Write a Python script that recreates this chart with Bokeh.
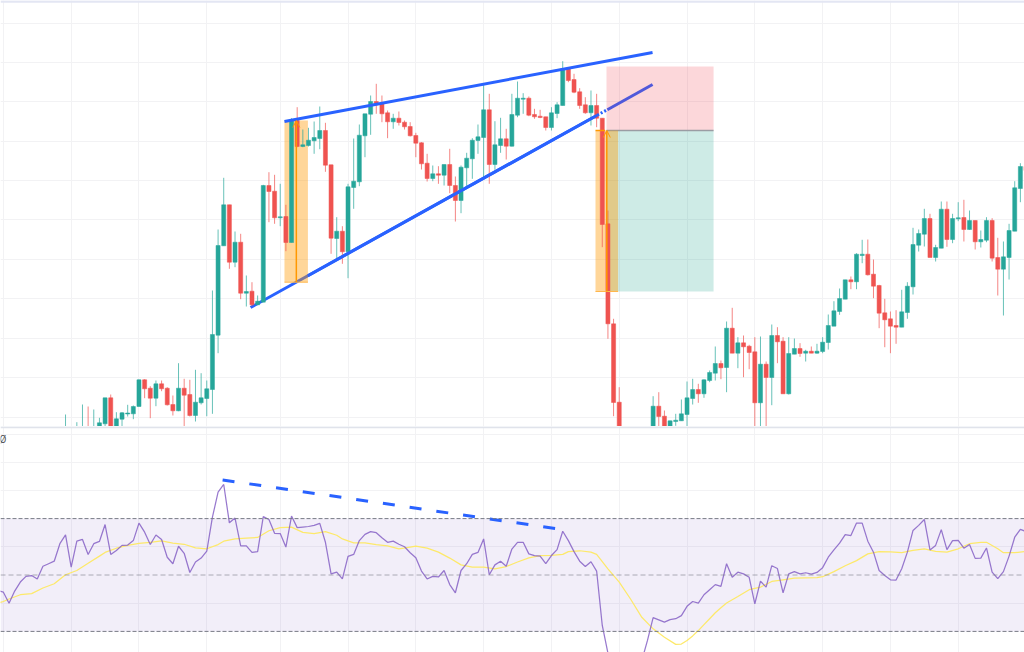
from bokeh.embed import file_html
from bokeh.layouts import column
from bokeh.models import Arrow, BoxAnnotation, ColumnDataSource, FixedTicker, Label, OpenHead, Range1d, Span
from bokeh.plotting import figure
from bokeh.resources import INLINE

# bars are numbered so that 0 sits on the first full vertical grid line
bar_first = -1

bar_open = [-1, 1, 0, 1, 4, 1, 3, 6.7, 32.7, 2,
    11.3, 16.5, 16.7, 24, 50.7, 42.3, 32.3, 46.7, 42.3, 26,
    19.7, 42.3, 36, 15, 27.7, 32, 41, 95.3, 184.7, 225.7,
    168.3, 188.3, 137.3, 139.3, 125.7, 128.3, 245, 239.3, 212.7, 214,
    188, 310, 284, 285, 289.7, 292, 300, 265.7, 192, 199.3,
    178.7, 243, 248.7, 294.7, 316.3, 329, 326.7, 317.7, 308.7, 312.3,
    308.3, 304, 295, 287.7, 267.3, 252, 256.7, 255.3, 266, 245,
    230, 262.7, 271.7, 290, 293, 320.7, 266, 285, 291.7, 284.3,
    315.3, 331.3, 332.3, 316, 314.3, 313.7, 303, 317, 325, 362.3,
    351, 338.7, 325.7, 317.7, 325, 312.3, 206.7, 106.7, 28.3, -10,
    -30, -38, -30, -24, -5, 24.3, 14.3, -3, 9, 9.7,
    16, 32, 41, 36.7, 50, 57.3, 67, 63, 102.3, 77.3,
    87.7, 84.3, 78.7, 27.7, 66.3, 53, 95, 89.3, 36.7, 76.3,
    82, 77.3, 79.3, 77.3, 79, 88, 104.3, 119, 131.3, 150.7,
    148.7, 175, 176.3, 156.3, 145, 117.7, 111.7, 105, 103.3, 118,
    143.7, 185.3, 196.3, 212, 173, 182.3, 221.3, 191, 211.7, 213,
    201, 210, 188.7, 190.3, 210, 173, 161.3, 173, 199.3, 242, 264]

bar_high = [16, 3, 8.3, 26, 24, 21, 12.7, 32.7, 36, 18.3,
    18.5, 25.7, 25, 51, 51.3, 44.3, 50, 50, 43.3, 35,
    67.3, 51.7, 50.7, 60.7, 57.3, 50, 140, 201, 252.7, 225.7,
    199, 196.7, 155, 148.3, 135, 245.7, 258.3, 255.7, 246.7, 225.7,
    312.3, 323.3, 301, 302.7, 309, 324, 307.7, 265.7, 213.3, 204.3,
    246.7, 292, 306, 316.7, 335, 346.7, 335, 320, 316.7, 319,
    310, 308.3, 297.7, 288.3, 276.7, 265, 264.3, 266, 281.7, 254,
    265, 277.7, 292.3, 306, 346.7, 336.7, 309.3, 312.7, 301.7, 336.7,
    349, 337.3, 334, 321.7, 320.7, 313.7, 323.3, 328.3, 369.3, 363.3,
    356.7, 342.3, 333.3, 340, 336.7, 312.3, 220, 111.7, 43.3, -8,
    -25, -24, -20, -4, 34.3, 38.3, 20, 10, 16.7, 31,
    49, 51.7, 46.7, 51.3, 60, 84, 70, 109, 122.7, 93.3,
    95, 85.7, 93.3, 94, 69, 106, 103.3, 93.3, 93.3, 92,
    87.3, 80.7, 84, 86.7, 93.3, 116, 129.3, 142, 150.7, 154,
    177.3, 190.7, 191, 171, 145.7, 131.7, 119, 120.3, 140.7, 148.3,
    202.7, 201, 221.7, 216.7, 185.7, 229, 229, 216.7, 228.3, 230.7,
    220, 210, 200, 213.3, 212.3, 192.7, 189, 206.7, 249.3, 267.3, 266]

bar_low = [-4, -6, -3, -2, -2, -1, 1, 2, 0, 0,
    4, 14, 11.3, 24, 32.3, 12.3, 24.3, 39.3, 25, 15,
    19.3, 4, 14, 9, 26, 14.3, 16.7, 77.3, 184.7, 161.7,
    163.3, 131.3, 124, 124.3, 125.7, 128.3, 208.3, 206.7, 204.3, 179.3,
    188, 283.3, 283.3, 284, 276.7, 281.3, 258.7, 176.7, 172.3, 166.7,
    152.3, 221.7, 244.3, 273.3, 295.7, 316.7, 308.3, 292.3, 301.7, 305,
    301, 294, 273.3, 261, 249, 249.3, 246.7, 245, 237.3, 209,
    217.3, 241.7, 251.7, 276.7, 251.7, 246.7, 260.7, 277.7, 271, 284,
    313.3, 316.7, 314.3, 311.7, 312.3, 300, 300, 312.3, 325, 348.3,
    337.3, 321.7, 316.7, 305, 303.3, 183.3, 91.7, 14.3, -15, -35,
    -45, -42, -33, -26, -8, 3, -5, -5, 4.7, 9.7,
    0, 26, 27.7, 32.7, 48.3, 50, 51.3, 38.3, 77.3, 62.3,
    53.3, 61.3, 0, 0, 0, 25.3, 67.3, 36.7, 36, 76.3,
    73.7, 69, 77.3, 76.7, 77.3, 81, 104.3, 115.7, 131.3, 141.3,
    141.3, 167.3, 155, 132.3, 102.3, 83.3, 77.3, 86.7, 103.3, 111.7,
    136, 179, 184, 173, 169, 182.3, 183.7, 187.3, 209.3, 189,
    200.7, 181, 183, 188.3, 169, 135, 115, 151, 199.3, 228.3, 258]

bar_close = [2, -3, 3, 4, 1, 4, 7.7, 32.7, 2, 11.7,
    17.7, 17.5, 24, 50.7, 41.7, 32.3, 46.7, 41.7, 25.7, 19.7,
    42.3, 35.3, 15, 28.3, 32.7, 41.7, 96, 185, 225.7, 168.3,
    188.3, 137.3, 139, 125.7, 129.3, 245, 239, 212.7, 213.7, 188,
    310, 284, 285.7, 290.3, 293, 300, 265.3, 192.3, 199.3, 178.7,
    243.7, 249.3, 295.3, 316.7, 329, 325.7, 316.7, 308.7, 312.3, 308,
    303.7, 294.7, 287.3, 266.7, 252, 256.7, 255.3, 266, 245, 230,
    263.3, 272.3, 290.3, 293.7, 320.7, 266, 285.7, 291.7, 284.3, 316,
    332.3, 332.3, 315.3, 313.7, 313, 303, 317.7, 325.7, 361.7, 350,
    338.3, 325, 317.7, 325, 312.3, 206, 106.7, 28, -10, -30,
    -38, -30, -24, -8, 24.3, 14, -3, 9.7, 10.3, 16.7,
    32.7, 41, 36.7, 50.7, 58, 67, 62.7, 102.3, 77.3, 87.7,
    83.7, 78, 27.7, 66.3, 53, 95, 88.7, 36.7, 77, 82,
    77, 79.3, 77.3, 79.3, 88.3, 105, 119.7, 132, 150.7, 148.7,
    176.3, 176.3, 155.7, 144.3, 117.3, 110.7, 104.3, 103.3, 118.7, 144.3,
    186, 197, 212, 173, 183, 221.3, 191, 212, 212.7, 201,
    210, 188.7, 191, 210, 172.3, 161.3, 173.7, 200, 242.7, 264, 260]

rsi_first = -13
rsi_values = [44.5, 43.9, 40.0, 44.3, 47.5, 49.5, 49.8, 48.6, 53.1, 54.0, 54.9,
    61.1, 64.2, 52.8, 62.0, 62.6, 57.3, 61.1, 61.9, 67.9, 57.3,
    58.7, 60.5, 60.6, 62.2, 68.4, 65.2, 60.8, 64.2, 62.6, 56.3,
    54.0, 60.2, 57.7, 50.9, 54.6, 56.0, 58.5, 70.5, 79.4, 82.1,
    68.5, 70.2, 60.3, 60.3, 58.0, 58.3, 70.7, 69.7, 64.8, 64.7,
    59.9, 70.9, 66.8, 67.0, 67.2, 67.6, 68.3, 61.6, 50.4, 51.0,
    48.6, 56.6, 57.3, 62.2, 64.4, 65.4, 65.0, 63.2, 61.6, 62.0,
    60.9, 60.0, 57.9, 56.1, 51.4, 48.6, 49.5, 49.3, 51.6, 46.6,
    43.7, 51.6, 54.0, 57.3, 58.0, 62.8, 50.1, 53.6, 54.9, 53.1,
    59.2, 61.6, 61.6, 57.5, 56.9, 56.7, 54.0, 56.9, 59.0, 65.5,
    62.2, 58.3, 54.9, 53.0, 54.7, 51.4, 32.1, 22.3, 18, 15,
    14, 13.5, 15, 19.7, 26.8, 34.9, 34.1, 33.3, 34.2, 34.5,
    35.6, 38.9, 40.6, 40.0, 43.0, 44.8, 46.6, 46.0, 54.0, 49.2,
    51.0, 50.4, 49.2, 39.8, 47.8, 45.7, 53.3, 52.3, 43.7, 50.4,
    51.2, 50.4, 50.8, 50.3, 50.9, 52.6, 56.3, 58.9, 61.3, 64.3,
    64.0, 68.4, 68.4, 62.0, 58.1, 51.6, 49.8, 48.3, 48.2, 52.2,
    58.1, 65.8, 67.6, 69.7, 58.9, 60.5, 66.1, 59.0, 62.2, 62.3,
    59.5, 60.8, 55.9, 56.0, 59.6, 51.0, 48.7, 51.2, 56.7, 63.4, 66.2, 65.4]

ma_bars = [-13, -12, -11, -9, -7, -5, -3, -1, 1, 3, 5, 6, 8, 10, 12, 14, 16, 18, 20, 22, 24,
    26, 27, 29, 31, 33, 35, 37, 39, 41, 43, 45, 47, 48, 50, 52, 54, 56, 58, 60, 61,
    63, 65, 67, 69, 71, 73, 75, 77, 79, 81, 83, 85, 87, 88, 90, 92, 93, 95, 97, 99,
    101, 103, 105, 107, 108, 109, 110, 111, 112, 113, 114, 115, 116, 118, 120, 122, 124, 126, 128, 130,
    132, 133, 135, 137, 139, 141, 143, 145, 147, 149, 151, 153, 155, 157, 159, 161, 162, 164, 165, 167, 169]
ma_values = [40.0, 40.6, 41.5, 43.0, 43.4, 45.4, 46.9, 50.1, 51.6, 54.2, 56.7, 58.0, 59.5, 60.5, 61.2, 61.6, 62.1, 61.3, 60.9, 59.6, 59.3,
    60.8, 62.0, 62.8, 63.1, 63.3, 65.7, 66.8, 67.0, 65.1, 64.7, 65.4, 64.1, 62.8, 61.4, 61.4, 60.8, 60.3, 59.3, 59.9, 60.2,
    59.5, 58.1, 56.0, 53.6, 52.8, 52.8, 52.2, 53.0, 54.6, 56.1, 56.9, 57.0, 57.3, 58.3, 58.6, 58.1, 57.3, 52.2, 47.5, 41.5,
    35.0, 30.9, 27.9, 25.4, 25.5, 26.8, 28.4, 30.3, 32.4, 34.5, 36.6, 38.4, 40.1, 42.4, 44.8, 45.7, 47.7, 48.3, 48.9, 49.0,
    49.1, 49.4, 51.2, 53.3, 55.1, 57.5, 58.3, 58.2, 57.9, 58.7, 59.3, 58.4, 58.1, 59.3, 61.1, 61.6, 61.6, 59.3, 57.9, 57.9, 58.4]

# drawings on the price pane, bars / price
upper_bars = [37.75, 102.9]
upper_price = [309, 378]
lower_bars = [31.75, 93.1]
lower_price = [123, 315.3]
lower_top_bars = [41.9, 93.1]
lower_top_price = [154.8, 315.3]
lower_dot_bars = [93.1, 94.9]
lower_dot_price = [315.3, 320.8]
lower_end_bars = [94.9, 102.9]
lower_end_price = [320.8, 346]

# long position boxes
box1_bars = [37.75, 41.9]
box1_price = [148.3, 310]
box1_mid = 39.85
box2_bars = [92.8, 96.8]
box2_price = [139, 300]
box2_mid = 94.8
tick_bars = [92.8, 94.5]
target_bars = [94.75, 113.7]
target_price = [139, 300]
stop_price = [300, 364]

# diverge line on rsi
div_bars = [26.8, 86.0]
div_rsi = [83.7, 66.4]

time_ticks = [-12, 0, 12, 24, 37, 49, 61, 73, 85, 97, 109, 121, 133, 145, 157]
price_ticks = [13.3, 52.7, 92.3, 131.7, 171, 210.7, 250, 289.3, 328.7, 368, 407.5]
rsi_ticks = [40, 60, 80, 90, 100]

UP = "#26a69a"
DOWN = "#ef5350"
BLUE = "#2962ff"
GRID = "#f2f2f4"
ORANGE = "#ff9800"

x_range = Range1d(-12.51, 168.73)


def make_pane(height, y_range, y_ticks):
    p = figure(width=1024, height=height, x_range=x_range, y_range=y_range,
               output_backend="svg", toolbar_location=None, min_border=0)
    p.xaxis.visible = False
    p.yaxis.visible = False
    p.outline_line_color = None
    p.xgrid.ticker = FixedTicker(ticks=time_ticks)
    p.ygrid.ticker = FixedTicker(ticks=y_ticks)
    p.xgrid.grid_line_color = GRID
    p.ygrid.grid_line_color = GRID
    return p


price = make_pane(426, Range1d(4, 430), price_ticks)
price.add_layout(Span(location=429, dimension="width", line_color="#e3e6f3", line_width=2.5))

bars = list(range(bar_first, bar_first + len(bar_open)))
colors = [UP if c >= o else DOWN for o, c in zip(bar_open, bar_close)]
src = ColumnDataSource(dict(x=bars, open=bar_open, high=bar_high, low=bar_low, close=bar_close, color=colors))

price.line(lower_bars, lower_price, line_color=BLUE, line_width=3)
price.line(lower_end_bars, lower_end_price, line_color=BLUE, line_width=3)

price.quad(left=target_bars[0], right=target_bars[1], bottom=target_price[0], top=target_price[1],
           fill_color="#089981", fill_alpha=0.2, line_color=None)
price.quad(left=target_bars[0], right=target_bars[1], bottom=stop_price[0], top=stop_price[1],
           fill_color="#f23645", fill_alpha=0.2, line_color=None)
price.line(target_bars, [stop_price[0], stop_price[0]], line_color="#9a9ca3", line_width=1.5)

price.quad(left=box1_bars[0], right=box1_bars[1], bottom=box1_price[0], top=box1_price[1],
           fill_color=ORANGE, fill_alpha=0.4, line_color=None)
price.quad(left=box2_bars[0], right=box2_bars[1], bottom=box2_price[0], top=box2_price[1],
           fill_color=ORANGE, fill_alpha=0.4, line_color=None)

price.segment("x", "high", "x", "low", source=src, line_color="color", line_width=1, line_alpha=0.7)
price.vbar("x", 0.72, "open", "close", source=src, fill_color="color", line_color="color", line_width=0.5)

price.line(lower_top_bars, lower_top_price, line_color=BLUE, line_width=3)
price.line(upper_bars, upper_price, line_color=BLUE, line_width=3)
price.line(lower_dot_bars, lower_dot_price, line_color=BLUE, line_width=3, line_dash=[2, 2])

price.line([box1_bars[0], box1_bars[1]], [box1_price[0], box1_price[0]], line_color="#ffb74d", line_width=1)
price.line([box2_bars[0], box2_bars[1]], [box2_price[0], box2_price[0]], line_color="#ffb74d", line_width=1)
price.line(tick_bars, [box2_price[1], box2_price[1]], line_color=ORANGE, line_width=1.5)
for mid, box in ((box1_mid, box1_price), (box2_mid, box2_price)):
    price.add_layout(Arrow(end=OpenHead(size=7, line_color=ORANGE, line_width=1), x_start=mid, x_end=mid,
                           y_start=box[0], y_end=box[1], line_color=ORANGE, line_width=1.5))

rsi = make_pane(226, Range1d(22.52, 102.66), rsi_ticks)
rsi.add_layout(BoxAnnotation(bottom=30, top=70, fill_color="#7e57c2", fill_alpha=0.1, line_color=None, level="underlay"))
rsi.add_layout(Span(location=70, dimension="width", line_color="#787b86", line_width=1, line_dash=[4, 2]))
rsi.add_layout(Span(location=50, dimension="width", line_color="#787b86", line_width=1, line_dash=[5, 3], line_alpha=0.6))
rsi.add_layout(Span(location=30, dimension="width", line_color="#787b86", line_width=1, line_dash=[4, 2]))
rsi.add_layout(Span(location=102.4, dimension="width", line_color="#e0e3eb", line_width=2))

rsi_bars = list(range(rsi_first, rsi_first + len(rsi_values)))
rsi.line(ma_bars, ma_values, line_color="#fde96a", line_width=1.25)
rsi.line(rsi_bars, rsi_values, line_color="#7e57c2", line_width=1.25, line_alpha=0.8)
rsi.line(div_bars, div_rsi, line_color=BLUE, line_width=3, line_dash=[12, 15])
rsi.add_layout(Label(x=-12.51, y=98, text="Ø", text_font="Roboto", text_font_size="10px",
                     text_color="#555555", text_baseline="middle", x_offset=-1))

page = column(price, rsi, spacing=0)
open("out.html", "w").write(file_html(page, INLINE))
